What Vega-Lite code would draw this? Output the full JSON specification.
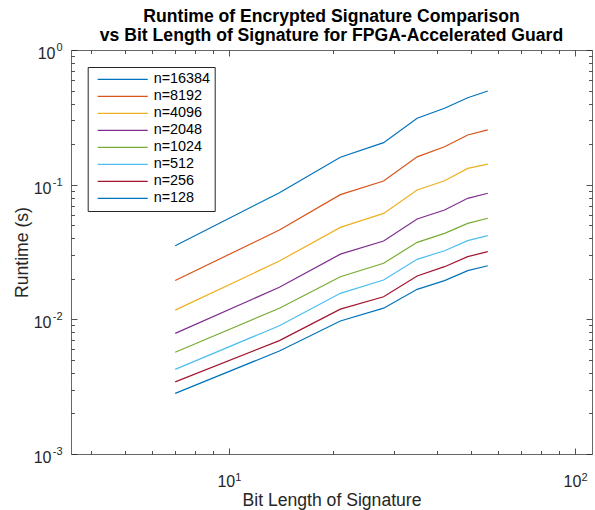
{
  "$schema": "https://vega.github.io/schema/vega-lite/v6.json",
  "width": 521,
  "height": 404,
  "autosize": {"type": "none"},
  "padding": {"left": 71, "top": 50, "right": 3, "bottom": 56},
  "background": "white",
  "config": {
    "view": {"stroke": null},
    "font": "Liberation Sans",
    "axis": {"grid": false, "labelFont": "Liberation Sans", "titleFont": "Liberation Sans", "domainColor": "#404040", "domainWidth": 0.8, "tickColor": "#262626", "tickWidth": 0.8, "labelColor": "#262626", "titleColor": "#262626", "titleFontWeight": "normal", "labelOverlap": false}
  },
  "title": {
    "text": ["Runtime of Encrypted Signature Comparison", "vs Bit Length of Signature for FPGA-Accelerated Guard"],
    "font": "Liberation Sans",
    "fontSize": 17.6,
    "fontWeight": "bold",
    "color": "#000000",
    "anchor": "middle",
    "offset": 5,
    "dy": 8,
    "lineHeight": 18.5
  },
  "data": {
    "values": [
      {"n": "n=16384", "bits": 7, "runtime": 0.0352},
      {"n": "n=16384", "bits": 14, "runtime": 0.0872},
      {"n": "n=16384", "bits": 21, "runtime": 0.160},
      {"n": "n=16384", "bits": 28, "runtime": 0.205},
      {"n": "n=16384", "bits": 35, "runtime": 0.311},
      {"n": "n=16384", "bits": 42, "runtime": 0.369},
      {"n": "n=16384", "bits": 49, "runtime": 0.442},
      {"n": "n=16384", "bits": 56, "runtime": 0.496},
      {"n": "n=8192", "bits": 7, "runtime": 0.0194},
      {"n": "n=8192", "bits": 14, "runtime": 0.0461},
      {"n": "n=8192", "bits": 21, "runtime": 0.0843},
      {"n": "n=8192", "bits": 28, "runtime": 0.1065},
      {"n": "n=8192", "bits": 35, "runtime": 0.161},
      {"n": "n=8192", "bits": 42, "runtime": 0.191},
      {"n": "n=8192", "bits": 49, "runtime": 0.234},
      {"n": "n=8192", "bits": 56, "runtime": 0.255},
      {"n": "n=4096", "bits": 7, "runtime": 0.0117},
      {"n": "n=4096", "bits": 14, "runtime": 0.0271},
      {"n": "n=4096", "bits": 21, "runtime": 0.0482},
      {"n": "n=4096", "bits": 28, "runtime": 0.0612},
      {"n": "n=4096", "bits": 35, "runtime": 0.0913},
      {"n": "n=4096", "bits": 42, "runtime": 0.107},
      {"n": "n=4096", "bits": 49, "runtime": 0.132},
      {"n": "n=4096", "bits": 56, "runtime": 0.142},
      {"n": "n=2048", "bits": 7, "runtime": 0.00787},
      {"n": "n=2048", "bits": 14, "runtime": 0.0173},
      {"n": "n=2048", "bits": 21, "runtime": 0.0305},
      {"n": "n=2048", "bits": 28, "runtime": 0.0382},
      {"n": "n=2048", "bits": 35, "runtime": 0.0556},
      {"n": "n=2048", "bits": 42, "runtime": 0.0648},
      {"n": "n=2048", "bits": 49, "runtime": 0.0792},
      {"n": "n=2048", "bits": 56, "runtime": 0.0863},
      {"n": "n=1024", "bits": 7, "runtime": 0.00569},
      {"n": "n=1024", "bits": 14, "runtime": 0.0121},
      {"n": "n=1024", "bits": 21, "runtime": 0.0207},
      {"n": "n=1024", "bits": 28, "runtime": 0.0261},
      {"n": "n=1024", "bits": 35, "runtime": 0.0373},
      {"n": "n=1024", "bits": 42, "runtime": 0.0435},
      {"n": "n=1024", "bits": 49, "runtime": 0.0516},
      {"n": "n=1024", "bits": 56, "runtime": 0.0563},
      {"n": "n=512", "bits": 7, "runtime": 0.00425},
      {"n": "n=512", "bits": 14, "runtime": 0.00897},
      {"n": "n=512", "bits": 21, "runtime": 0.0156},
      {"n": "n=512", "bits": 28, "runtime": 0.0196},
      {"n": "n=512", "bits": 35, "runtime": 0.0279},
      {"n": "n=512", "bits": 42, "runtime": 0.0323},
      {"n": "n=512", "bits": 49, "runtime": 0.0384},
      {"n": "n=512", "bits": 56, "runtime": 0.0418},
      {"n": "n=256", "bits": 7, "runtime": 0.00343},
      {"n": "n=256", "bits": 14, "runtime": 0.00695},
      {"n": "n=256", "bits": 21, "runtime": 0.0119},
      {"n": "n=256", "bits": 28, "runtime": 0.0147},
      {"n": "n=256", "bits": 35, "runtime": 0.0210},
      {"n": "n=256", "bits": 42, "runtime": 0.0246},
      {"n": "n=256", "bits": 49, "runtime": 0.0292},
      {"n": "n=256", "bits": 56, "runtime": 0.0318},
      {"n": "n=128", "bits": 7, "runtime": 0.00282},
      {"n": "n=128", "bits": 14, "runtime": 0.00582},
      {"n": "n=128", "bits": 21, "runtime": 0.00972},
      {"n": "n=128", "bits": 28, "runtime": 0.0121},
      {"n": "n=128", "bits": 35, "runtime": 0.0167},
      {"n": "n=128", "bits": 42, "runtime": 0.0194},
      {"n": "n=128", "bits": 49, "runtime": 0.0230},
      {"n": "n=128", "bits": 56, "runtime": 0.0250}
    ]
  },
  "resolve": {"axis": {"x": "independent", "y": "independent"}},
  "layer": [
    {
      "mark": {"type": "line", "strokeWidth": 1.2, "clip": true},
      "encoding": {
        "x": {
          "field": "bits", "type": "quantitative",
          "scale": {"type": "log", "domain": [3.5, 112], "nice": false},
          "axis": {"orient": "bottom", "values": [10, 100], "tickSize": -6, "labelFontSize": 16, "labelPadding": 38, "labelBaseline": "alphabetic", "labelAlign": "center", "labelOffset": -3,
                   "labelExpr": "'10'",
                   "title": "Bit Length of Signature", "titleFontSize": 17.6, "titleY": 51, "titleBaseline": "alphabetic", "domain": true}
        },
        "y": {
          "field": "runtime", "type": "quantitative",
          "scale": {"type": "log", "domain": [0.001, 1], "nice": false},
          "axis": {"orient": "left", "values": [0.001, 0.01, 0.1, 1], "tickSize": -6, "labelFontSize": 16,
                   "labelPadding": {"condition": {"test": "datum.value == 1", "value": 22}, "value": 26},
                   "labelAlign": "right", "labelBaseline": "alphabetic", "labelOffset": 8.5,
                   "labelExpr": "'10'",
                   "title": "Runtime (s)", "titleFontSize": 17.6, "titleX": -49, "titleBaseline": "middle", "domain": true}
        },
        "color": {
          "field": "n", "type": "nominal",
          "scale": {
            "domain": ["n=16384", "n=8192", "n=4096", "n=2048", "n=1024", "n=512", "n=256", "n=128"],
            "range": ["#0072BD", "#D95319", "#EDB120", "#7E2F8E", "#77AC30", "#4DBEEE", "#A2142F", "#0072BD"]
          },
          "legend": {
            "orient": "none", "legendX": 16.7, "legendY": 17, "title": null,
            "symbolType": "stroke", "symbolSize": 2500, "symbolStrokeWidth": 1.2,
            "labelFont": "Liberation Sans", "labelFontSize": 14.4, "labelColor": "#000000",
            "padding": 4, "symbolOffset": 5, "labelOffset": 5, "clipHeight": 16.9, "rowPadding": 0,
            "fillColor": "white", "strokeColor": "#262626", "labelLimit": 300
          }
        }
      }
    },
    {
      "mark": {"type": "point", "opacity": 0},
      "encoding": {
        "x": {"field": "bits", "type": "quantitative", "scale": {"type": "log", "domain": [3.5, 112], "nice": false},
              "axis": {"orient": "bottom", "values": [4, 5, 6, 7, 8, 9, 20, 30, 40, 50, 60, 70, 80, 90], "tickSize": -3.5, "labels": false, "domain": false, "title": null}},
        "y": {"field": "runtime", "type": "quantitative", "scale": {"type": "log", "domain": [0.001, 1], "nice": false},
              "axis": {"orient": "left", "values": [0.002, 0.003, 0.004, 0.005, 0.006, 0.007, 0.008, 0.009, 0.02, 0.03, 0.04, 0.05, 0.06, 0.07, 0.08, 0.09, 0.2, 0.3, 0.4, 0.5, 0.6, 0.7, 0.8, 0.9], "tickSize": -3.5, "labels": false, "domain": false, "title": null}}
      }
    },
    {
      "mark": {"type": "point", "opacity": 0},
      "encoding": {
        "x": {"field": "bits", "type": "quantitative", "scale": {"type": "log", "domain": [3.5, 112], "nice": false},
              "axis": {"orient": "top", "values": [10, 100], "tickSize": -6, "labels": false, "domain": true, "title": null}},
        "y": {"field": "runtime", "type": "quantitative", "scale": {"type": "log", "domain": [0.001, 1], "nice": false},
              "axis": {"orient": "right", "values": [0.001, 0.01, 0.1, 1], "tickSize": -6, "labels": false, "domain": true, "title": null}}
      }
    },
    {
      "mark": {"type": "point", "opacity": 0},
      "encoding": {
        "x": {"field": "bits", "type": "quantitative", "scale": {"type": "log", "domain": [3.5, 112], "nice": false},
              "axis": {"orient": "top", "values": [4, 5, 6, 7, 8, 9, 20, 30, 40, 50, 60, 70, 80, 90], "tickSize": -3.5, "labels": false, "domain": false, "title": null}},
        "y": {"field": "runtime", "type": "quantitative", "scale": {"type": "log", "domain": [0.001, 1], "nice": false},
              "axis": {"orient": "right", "values": [0.002, 0.003, 0.004, 0.005, 0.006, 0.007, 0.008, 0.009, 0.02, 0.03, 0.04, 0.05, 0.06, 0.07, 0.08, 0.09, 0.2, 0.3, 0.4, 0.5, 0.6, 0.7, 0.8, 0.9], "tickSize": -3.5, "labels": false, "domain": false, "title": null}}
      }
    },
    {
      "mark": {"type": "point", "opacity": 0},
      "encoding": {
        "x": {"field": "bits", "type": "quantitative", "scale": {"type": "log", "domain": [3.5, 112], "nice": false},
              "axis": {"orient": "bottom", "values": [10, 100], "ticks": false, "tickSize": 0, "domain": false, "title": null,
                       "labelFontSize": 11, "labelPadding": 26, "labelBaseline": "alphabetic", "labelAlign": "center", "labelOffset": 9,
                       "labelExpr": "datum.value == 10 ? '1' : '2'"}},
        "y": {"field": "runtime", "type": "quantitative", "scale": {"type": "log", "domain": [0.001, 1], "nice": false},
              "axis": {"orient": "left", "values": [0.001, 0.01, 0.1, 1], "ticks": false, "tickSize": 0, "domain": false, "title": null,
                       "labelFontSize": 11, "labelPadding": 9, "labelBaseline": "alphabetic", "labelAlign": "right", "labelOffset": 0.5,
                       "labelExpr": "datum.value == 1 ? '0' : datum.value == 0.1 ? '-1' : datum.value == 0.01 ? '-2' : '-3'"}}
      }
    }
  ]
}
